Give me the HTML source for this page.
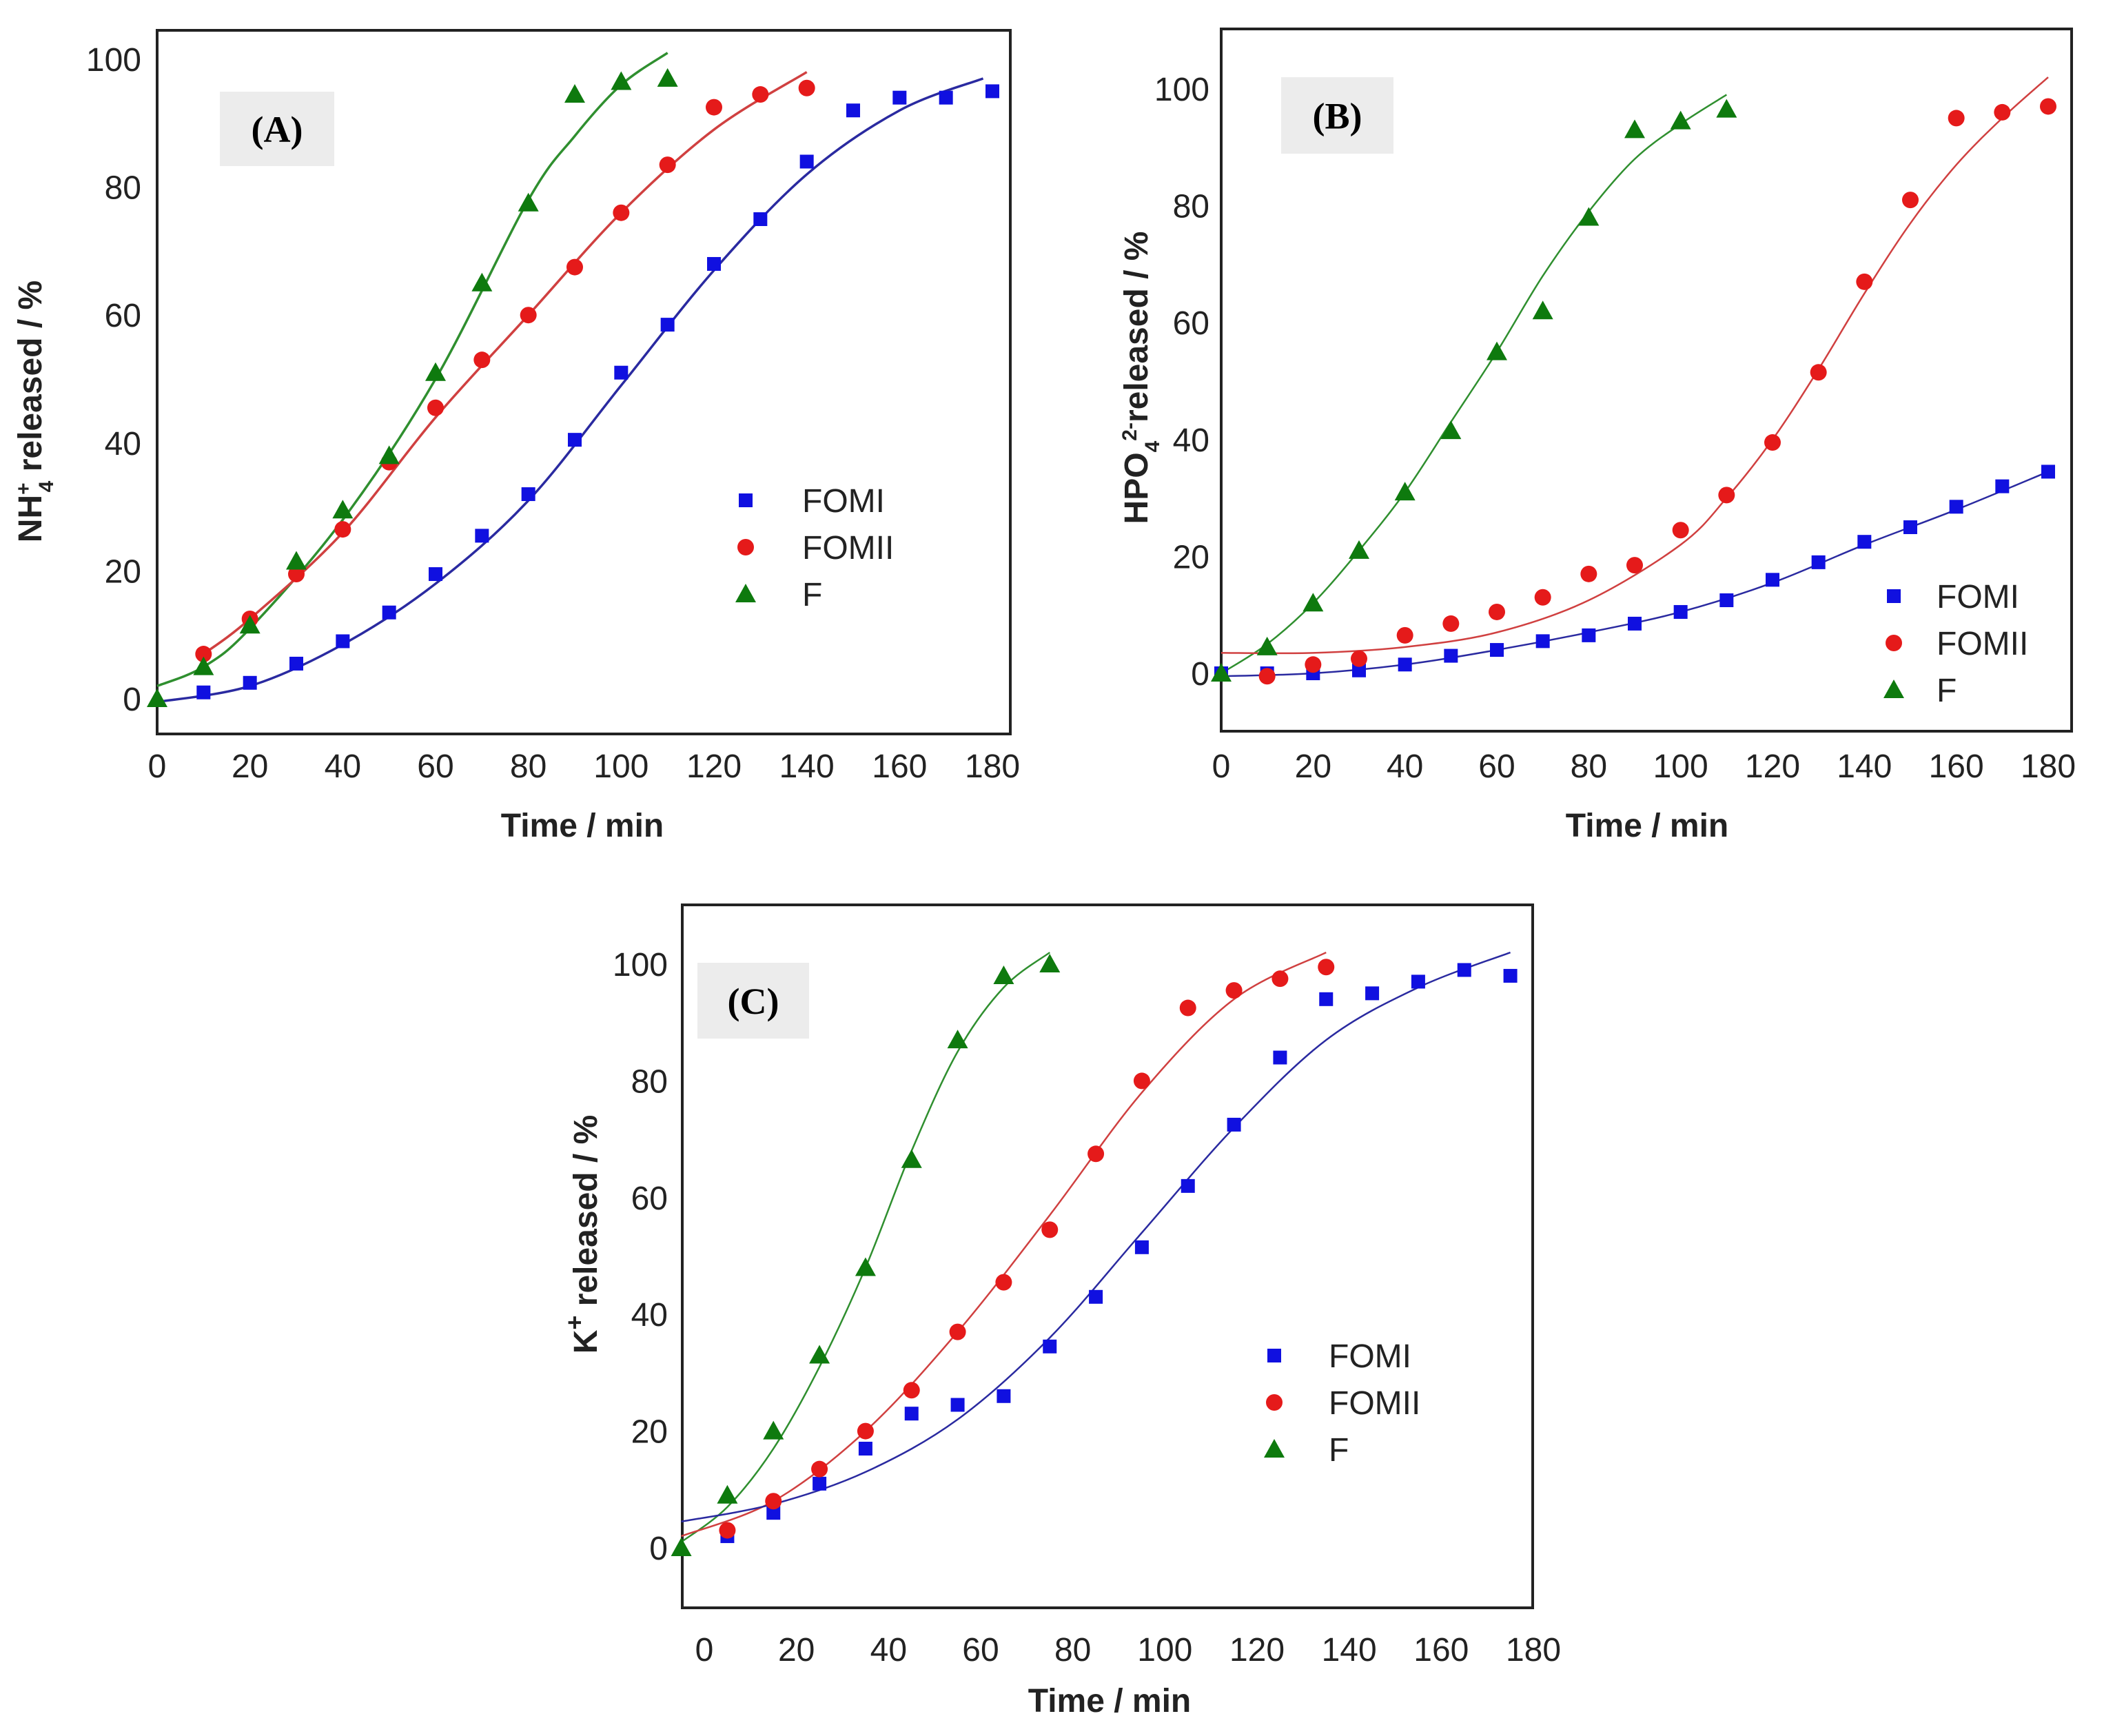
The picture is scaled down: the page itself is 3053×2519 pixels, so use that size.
<!DOCTYPE html>
<html><head><meta charset="utf-8"><style>
html,body{margin:0;padding:0;background:#fff}
svg{display:block}
text{font-family:"Liberation Sans",sans-serif}
</style></head><body>
<svg id="fig" width="3053" height="2519" viewBox="0 0 3053 2519" xmlns="http://www.w3.org/2000/svg"></svg>
<script>
// ---------- Panel A data (NH4+) ----------
const aFomiX=[10,20,30,40,50,60,70,80,90,100,110,120,130,140,150,160,170,180];
const aFomiY=[1,2.5,5.5,9,13.5,19.5,25.5,32,40.5,51,58.5,68,75,84,92,94,94,95];
const aFomiiX=[10,20,30,40,50,60,70,80,90,100,110,120,130,140];
const aFomiiY=[7,12.5,19.5,26.5,37,45.5,53,60,67.5,76,83.5,92.5,94.5,95.5];
const aFX=[0,10,20,30,40,50,60,70,80,90,100,110];
const aFY=[0,5,11.5,21.5,29.5,38,51,65,77.5,94.5,96.5,97];
const aFitFomiX=[0,20,40,60,80,100,120,140,160,178];
const aFitFomiY=[-0.5,2,8.5,18,31,49,67,82,92,97];
const aFitFomiiX=[10,20,40,60,80,100,120,140];
const aFitFomiiY=[7,12.5,26,44,60,76,89,98];
const aFitFX=[0,10,20,40,60,80,90,100,110];
const aFitFY=[2,5,11,28,50,78,88,96,101];
// ---------- Panel B data (HPO4 2-) ----------
const bFomiX=[0,10,20,30,40,50,60,70,80,90,100,110,120,130,140,150,160,170,180];
const bFomiY=[0,0,0,0.5,1.5,3,4,5.5,6.5,8.5,10.5,12.5,16,19,22.5,25,28.5,32,34.5];
const bFomiiX=[10,20,30,40,50,60,70,80,90,100,110,120,130,140,150,160,170,180];
const bFomiiY=[-0.5,1.5,2.5,6.5,8.5,10.5,13,17,18.5,24.5,30.5,39.5,51.5,67,81,95,96,97];
const bFX=[0,10,20,30,40,50,60,70,80,90,100,110];
const bFY=[0,4.5,12,21,31,41.5,55,62,78,93,94.5,96.5];
const bFitFomiX=[0,20,40,60,80,100,120,140,160,180];
const bFitFomiY=[-0.5,0,1.5,4,7,10.5,15.5,22,28,34.5];
const bFitFomiiX=[0,20,40,60,80,100,110,120,130,140,150,160,170,180];
const bFitFomiiY=[3.5,3.5,4.5,7,12.5,22,30,40,52,65,77,87,95,102];
const bFitFX=[0,10,20,30,40,50,60,70,80,90,100,110];
const bFitFY=[0,5,12,21,31,43,55,68,79,88,94,99];
// ---------- Panel C data (K+) ----------
const cFomiX=[5,15,25,35,45,55,65,75,85,95,105,115,125,135,145,155,165,175];
const cFomiY=[2,6,11,17,23,24.5,26,34.5,43,51.5,62,72.5,84,94,95,97,99,98];
const cFomiiX=[5,15,25,35,45,55,65,75,85,95,105,115,125,135];
const cFomiiY=[3,8,13.5,20,27,37,45.5,54.5,67.5,80,92.5,95.5,97.5,99.5];
const cFX=[-5,5,15,25,35,45,55,65,75];
const cFY=[0,9,20,33,48,66.5,87,98,100];
const cFitFomiX=[-5,15,35,55,75,95,115,135,155,175];
const cFitFomiY=[4.5,7.5,13,22,36,54,72,87,96,102];
const cFitFomiiX=[-5,15,35,55,75,95,115,135];
const cFitFomiiY=[2,8,20,37,57,78,94,102];
const cFitFX=[-5,5,15,25,35,45,55,65,75];
const cFitFY=[1,7,17,31,48,68,85,96,102];
const xTicks=[0,20,40,60,80,100,120,140,160,180];
const yTicks=[0,20,40,60,80,100];
const legendLabels=["FOMI","FOMII","F"];

const NS="http://www.w3.org/2000/svg";
const svg=document.getElementById('fig');
function mk(tag,attrs,parent){const e=document.createElementNS(NS,tag);for(const k in attrs)e.setAttribute(k,attrs[k]);(parent||svg).appendChild(e);return e;}
const BLUE="#1010e0",RED="#e51a1a",GREEN="#0e7a0e";
const LBLUE="#2a2aa0",LRED="#d04040",LGREEN="#2f8f2f";

function smoothPath(pts){
  let d="M"+pts[0][0]+","+pts[0][1];
  for(let i=0;i<pts.length-1;i++){
    const p0=pts[i-1]||pts[i],p1=pts[i],p2=pts[i+1],p3=pts[i+2]||p2;
    const c1=[p1[0]+(p2[0]-p0[0])/6,p1[1]+(p2[1]-p0[1])/6];
    const c2=[p2[0]-(p3[0]-p1[0])/6,p2[1]-(p3[1]-p1[1])/6];
    d+=" C"+c1[0]+","+c1[1]+" "+c2[0]+","+c2[1]+" "+p2[0]+","+p2[1];
  }
  return d;
}
function marker(g,kind,x,y,color){
  let e;
  if(kind==='sq'){e=mk('rect',{x:x-10,y:y-10,width:20,height:20,fill:color},g);}
  else if(kind==='ci'){e=mk('circle',{cx:x,cy:y,r:12,fill:color},g);}
  else {e=mk('polygon',{points:(x)+","+(y-15)+" "+(x+15)+","+(y+12)+" "+(x-15)+","+(y+12),fill:color},g);}
  return e;
}
function panel(cfg){
  const g=mk('g',{});
  
  
  const sx=v=>cfg.x0+(v-0)*(cfg.x180-cfg.x0)/180;
  const sy=v=>cfg.y0+(v-0)*(cfg.y100-cfg.y0)/100;
  const frame=mk('rect',{x:cfg.L,y:cfg.T,width:cfg.R-cfg.L,height:cfg.B-cfg.T,fill:'none',stroke:'#222',"stroke-width":4},g);
  
  
  const box=mk('rect',{x:cfg.box[0],y:cfg.box[1],width:cfg.box[2],height:cfg.box[3],fill:'#ececec'},g);
  
  
  const lab=mk('text',{x:cfg.box[0]+cfg.box[2]/2,y:cfg.box[1]+cfg.box[3]/2+19,"text-anchor":"middle","font-size":54,"font-weight":"bold",style:'font-family:"Liberation Serif",serif'},g);
  lab.textContent=cfg.label;
  
  
  yTicks.forEach(v=>{
    const t=mk('text',{x:cfg.yLabX,y:sy(v)+17,"text-anchor":"end","font-size":48,fill:'#222'},g);
    t.textContent=v;
    
    
  });
  xTicks.forEach(v=>{
    const t=mk('text',{x:sx(v),y:cfg.xLabY,"text-anchor":"middle","font-size":48,fill:'#222'},g);
    t.textContent=v;
    
    
  });
  const xt=mk('text',{x:cfg.xTitle[0],y:cfg.xTitle[1],"text-anchor":"middle","font-size":48,"font-weight":"bold",fill:'#222'},g);
  xt.textContent="Time / min";
  
  
  const yt=mk('text',{x:0,y:0,"text-anchor":"middle","font-size":48,"font-weight":"bold",fill:'#222',transform:"translate("+cfg.yTitle[0]+","+cfg.yTitle[1]+") rotate(-90)"},g);
  yt.innerHTML=cfg.yHtml;
  
  
  const fits=[[cfg.fitF[0],cfg.fitF[1],LGREEN,'fit-line-f'],[cfg.fitII[0],cfg.fitII[1],LRED,'fit-line-fomii'],[cfg.fitI[0],cfg.fitI[1],LBLUE,'fit-line-fomi']];
  fits.forEach(f=>{
    const pts=f[0].map((v,i)=>[sx(v),sy(f[1][i])]);
    const p=mk('path',{d:smoothPath(pts),fill:'none',stroke:f[2],"stroke-width":cfg.lw},g);
    
    
  });
  const series=[[cfg.I[0],cfg.I[1],'sq',BLUE,'point-fomi'],[cfg.II[0],cfg.II[1],'ci',RED,'point-fomii'],[cfg.F[0],cfg.F[1],'tr',GREEN,'point-f']];
  series.forEach(s=>{
    s[0].forEach((v,i)=>{
      const m=marker(g,s[2],sx(v),sy(s[1][i]),s[3]);
      
      
    });
  });
  const kinds=[['sq',BLUE],['ci',RED],['tr',GREEN]];
  legendLabels.forEach((l,i)=>{
    const y=cfg.leg[1]+i*cfg.leg[3];
    const m=marker(g,kinds[i][0],cfg.leg[0],y,kinds[i][1]);
    
    
    const t=mk('text',{x:cfg.leg[2],y:y+17,"font-size":48,fill:'#222'},g);
    t.textContent=l;
    
    
  });
}
panel({name:'panel-a',label:'(A)',L:228,R:1466,T:44,B:1065,x0:228,x180:1440,y0:1014,y100:86,
  box:[319,133,166,108],yLabX:205,xLabY:1128,xTitle:[845,1214],yTitle:[60,597],lw:3.5,
  yHtml:'NH<tspan baseline-shift="super" font-size="30">+</tspan><tspan baseline-shift="sub" font-size="30" dx="-14">4</tspan> released / %',
  I:[aFomiX,aFomiY],II:[aFomiiX,aFomiiY],F:[aFX,aFY],
  fitI:[aFitFomiX,aFitFomiY],fitII:[aFitFomiiX,aFitFomiiY],fitF:[aFitFX,aFitFY],
  leg:[1082,726,1164,68]});
panel({name:'panel-b',label:'(B)',L:1772,R:3006,T:42,B:1061,x0:1772,x180:2972,y0:977,y100:129,
  box:[1859,112,163,111],yLabX:1755,xLabY:1128,xTitle:[2390,1214],yTitle:[1665,548],lw:2.5,
  yHtml:'HPO<tspan baseline-shift="sub" font-size="30">4</tspan><tspan baseline-shift="super" font-size="30">2-</tspan>released / %',
  I:[bFomiX,bFomiY],II:[bFomiiX,bFomiiY],F:[bFX,bFY],
  fitI:[bFitFomiX,bFitFomiY],fitII:[bFitFomiiX,bFitFomiiY],fitF:[bFitFX,bFitFY],
  leg:[2748,865,2810,68]});
panel({name:'panel-c',label:'(C)',L:990,R:2224,T:1313,B:2333,x0:1022,x180:2225,y0:2246,y100:1399,
  box:[1012,1397,162,110],yLabX:969,xLabY:2410,xTitle:[1610,2484],yTitle:[866,1791],lw:2.5,
  yHtml:'K<tspan baseline-shift="super" font-size="36">+</tspan> released / %',
  I:[cFomiX,cFomiY],II:[cFomiiX,cFomiiY],F:[cFX,cFY],
  fitI:[cFitFomiX,cFitFomiY],fitII:[cFitFomiiX,cFitFomiiY],fitF:[cFitFX,cFitFY],
  leg:[1849,1967,1928,68]});
</script>
</body></html>
